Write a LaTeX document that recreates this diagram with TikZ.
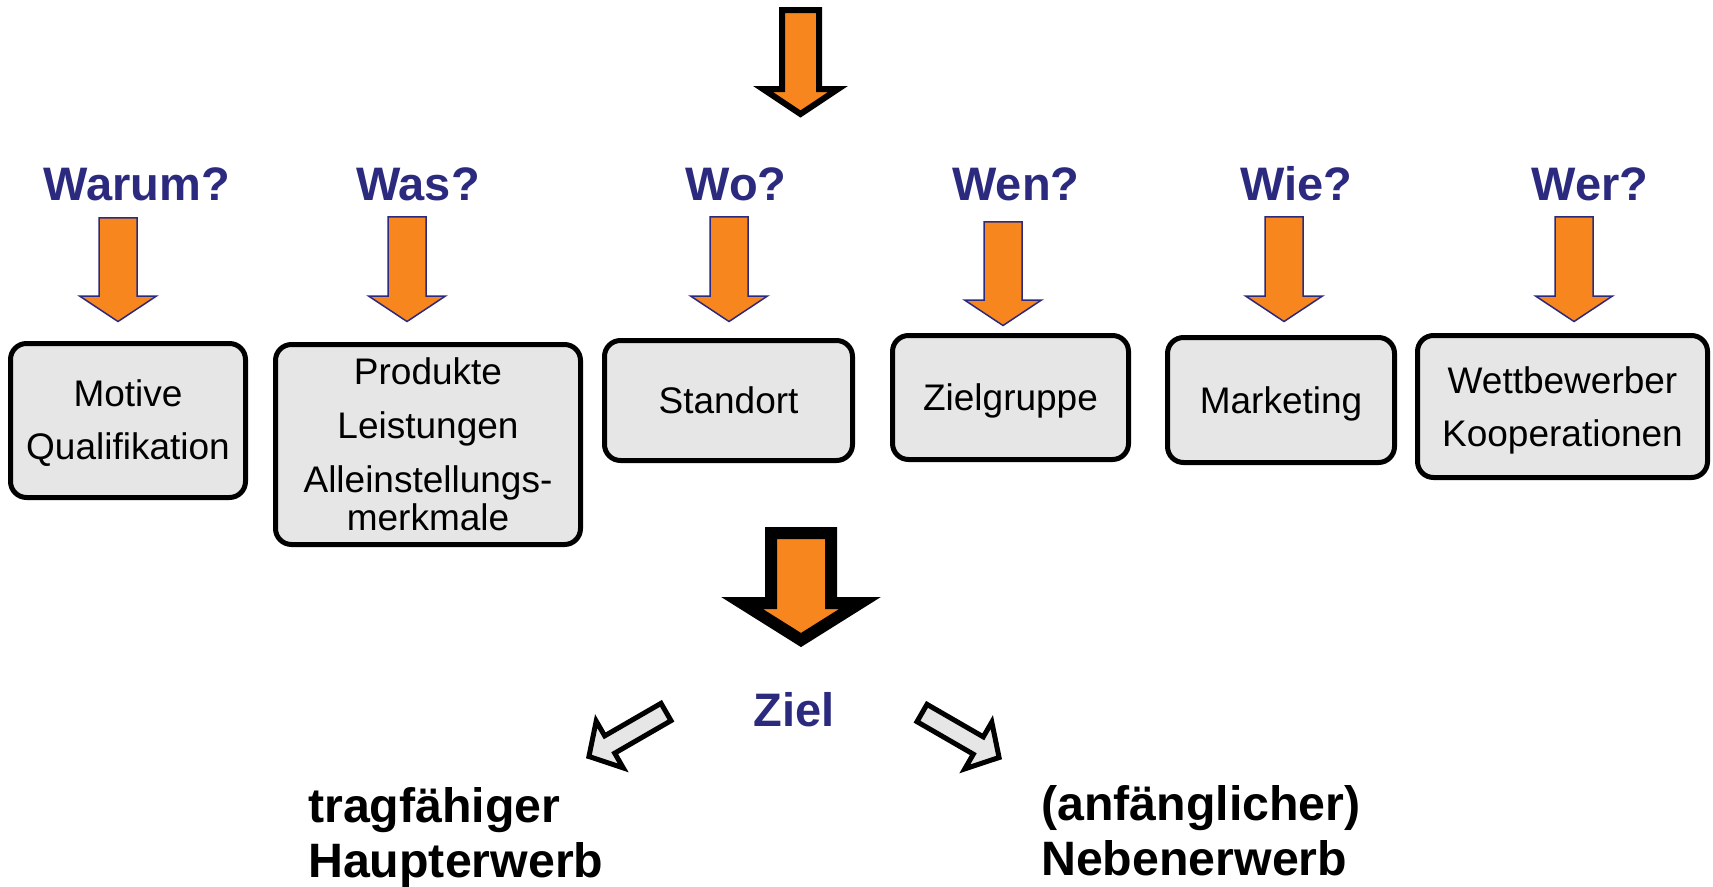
\documentclass[tikz,border=0pt]{standalone}
\usepackage{fontspec}
\setmainfont{Liberation Sans}
\definecolor{qblue}{RGB}{43,42,126}
\definecolor{aorange}{RGB}{248,134,30}
\definecolor{boxgray}{RGB}{230,230,230}
\newcommand\vblockarrow[7]{% style, cx, top, headtop, tip, shaft half width, head half width
  \draw[#1] ({#2-#6},#3) -- ({#2+#6},#3) -- ({#2+#6},#4) -- ({#2+#7},#4) -- (#2,#5) -- ({#2-#7},#4) -- ({#2-#6},#4) -- cycle;}
\newcommand\smallarrowat[3]{% cx, outer top, outer tip
  \vblockarrow{smallarrow}{#1}{#2+0.75}{#3-27}{#3-1.5}{19}{38.5}}
\newcommand\lift[1]{\rule{0pt}{#1}}
\tikzset{
  box/.style={draw=black, line width=5pt, fill=boxgray, rounded corners=16pt, align=center,
    font=\fontsize{37}{53}\selectfont, inner sep=0pt},
  qlabel/.style={text=qblue, font=\fontsize{47}{56}\selectfont\bfseries, anchor=base, inner sep=0pt},
  smallarrow/.style={draw=qblue, line width=1.5pt, fill=aorange, line join=miter},
  blockarrow/.style={draw=black, fill=aorange, line join=miter},
  grayarrow/.style={draw=black, line width=5pt, fill=boxgray, line join=miter},
  result/.style={font=\fontsize{48.3}{56}\selectfont\bfseries, anchor=base west, inner sep=0pt}
}
\begin{document}
\begin{tikzpicture}[x=1pt,y=-1pt]
\useasboundingbox (0,0) rectangle (1713,886);
% top arrow
\vblockarrow{blockarrow, line width=6pt}{800.5}{10}{89}{114}{18.5}{37.5}
% question labels
\node[qlabel] (qwarum) at (137,200) {Warum?};
\node[qlabel] (qwas)   at (418,200) {Was?};
\node[qlabel] (qwo)    at (736,200) {Wo?};
\node[qlabel] (qwen)   at (1016,200) {Wen?};
\node[qlabel] (qwie)   at (1296,200) {Wie?};
\node[qlabel] (qwer)   at (1590,200) {Wer?};
% small arrows
\smallarrowat{118}{217}{323}
\smallarrowat{407}{216}{323}
\smallarrowat{729}{216}{323}
\smallarrowat{1003}{221}{327}
\smallarrowat{1284}{216}{323}
\smallarrowat{1574}{216}{323}
% boxes
\node[box, minimum width=235pt, minimum height=154pt] (b1) at (128,420.5) {\lift{31.5pt}Motive\\Qualifikation};
\node[box, minimum width=305pt, minimum height=200pt, font=\fontsize{37}{38}\selectfont] (b2) at (428,444.5)
  {Produkte\\[16pt]Leistungen\\[16pt]Alleinstellungs-\\merkmale};
\node[box, minimum width=248pt, minimum height=120pt] (b3) at (728.5,400.5) {Standort};
\node[box, minimum width=236pt, minimum height=124pt] (b4) at (1010.5,397.5) {\lift{33pt}Zielgruppe};
\node[box, minimum width=227pt, minimum height=125pt] (b5) at (1281,400) {\lift{35pt}Marketing};
\node[box, minimum width=290pt, minimum height=142pt] (b6) at (1562.5,406.5) {\lift{34.5pt}Wettbewerber\\Kooperationen};
% big arrow
\vblockarrow{blockarrow, line width=12pt}{801}{533}{603}{640}{30}{59}
% Ziel
\node[qlabel] (ziel) at (794,726) {Ziel};
% gray arrows
\begin{scope}[shift={(666,712)}, rotate=210]
  \draw[grayarrow] (0,-10) -- (65,-10) -- (65,-27) -- (89,0) -- (65,27) -- (65,10) -- (0,10) -- cycle;
\end{scope}
\begin{scope}[shift={(922,713)}, rotate=-30]
  \draw[grayarrow] (0,-10) -- (65,-10) -- (65,-27) -- (89,0) -- (65,27) -- (65,10) -- (0,10) -- cycle;
\end{scope}
% results
\node[result] (r1a) at (308,822) {tragfähiger};
\node[result] (r1b) at (308,877) {Haupterwerb};
\node[result] (r2a) at (1041,820) {(anfänglicher)};
\node[result] (r2b) at (1041,875) {Nebenerwerb};
\end{tikzpicture}
\end{document}
